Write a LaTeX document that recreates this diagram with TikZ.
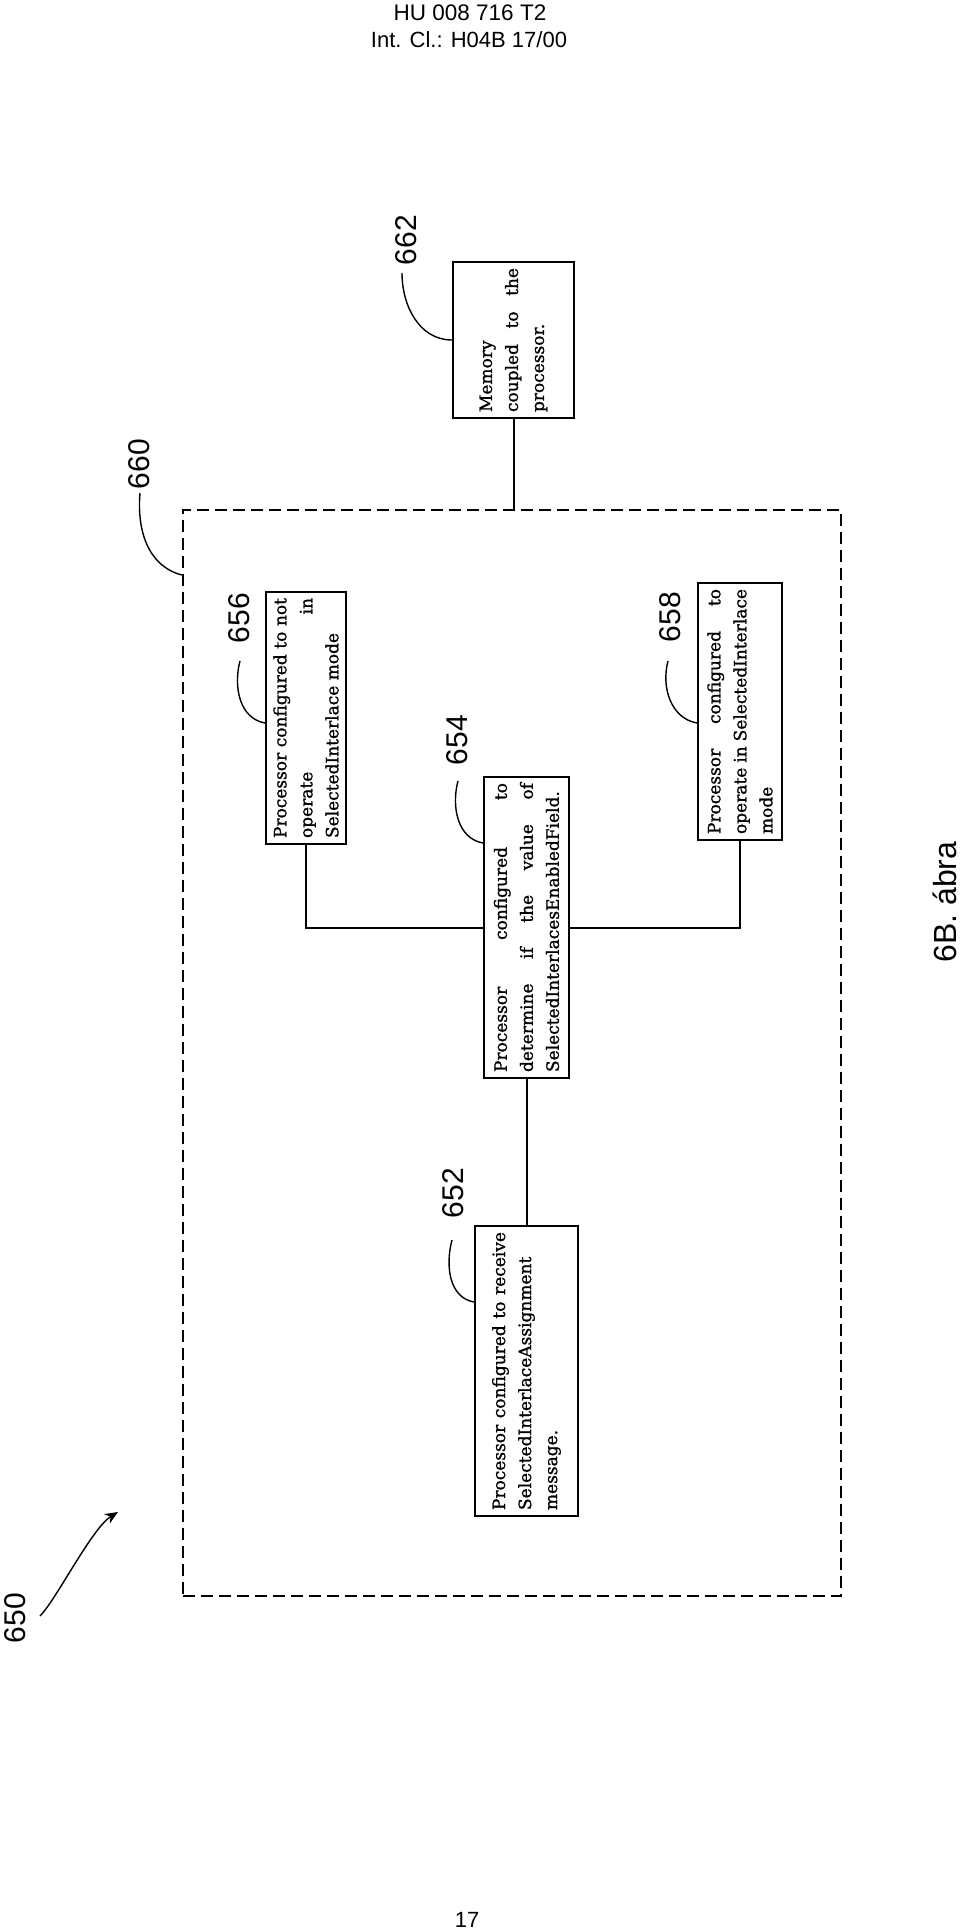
\documentclass[tikz,border=0pt]{standalone}
\usepackage{fontspec}
\setmainfont{Liberation Sans}
\newfontfamily\blockfont[FakeBold=1.2]{DejaVu Serif}
\usetikzlibrary{arrows.meta}
\hyphenpenalty=10000
\exhyphenpenalty=10000
\tikzset{
	procbox/.style={draw, line width=2pt, rotate=90, align=justify, inner xsep=6pt, inner ysep=0pt, font=\blockfont\fontsize{17}{26}\selectfont},
	refnum/.style={rotate=90, inner sep=0pt, font=\fontsize{30}{30}\selectfont},
	leader/.style={line width=1.4pt},
	link/.style={line width=2pt},
	dashframe/.style={draw, line width=2.4pt, dash pattern=on 12pt off 6pt, inner sep=0pt}
}

\begin{document}
\begin{tikzpicture}[x=1pt, y=1pt]
		%%%%% START %%%%%
		
		\useasboundingbox (0, 0) rectangle (960, -1930);
		
		\node[font=\fontsize{22.5}{22.5}\selectfont] (head1) at (470, -13) {HU 008 716 T2};
		\node[font=\fontsize{22}{22}\selectfont] (head2) at (469, -40) {Int. Cl.: H04B 17/00};
		
		\node[dashframe, minimum width=658pt, minimum height=1086pt] (n660) at (512, -1053) {};
		
		\node[procbox, text width=144pt, minimum height=121pt] (n662) at (513.5, -340) {Memory\\ coupled to the\linebreak processor.};
		\node[procbox, text width=240pt, minimum height=80pt] (n656) at (306, -718) {Processor configured to not\linebreak operate in\linebreak SelectedInterlace mode};
		\node[procbox, text width=289pt, minimum height=85pt] (n654) at (526.5, -927.5) {Processor configured to\linebreak determine if the value of\linebreak SelectedInterlacesEnabledField.};
		\node[procbox, text width=245pt, minimum height=84pt] (n658) at (740, -711.5) {Processor configured to\linebreak operate in SelectedInterlace\linebreak mode};
		\node[procbox, text width=278pt, minimum height=103pt] (n652) at (526.5, -1371) {Processor configured to receive\linebreak SelectedInterlaceAssignment\\ message.};
		
		\draw[link] (n662.west) -- (n662.west |- n660.north);
		\draw[link] (n656.west) |- (n654.north);
		\draw[link] (n658.west) |- (n654.south);
		\draw[link] (n654.west) -- (n652.east);
		
		\node[refnum] (l662) at (406, -240) {662};
		\node[refnum] (l660) at (139, -464) {660};
		\node[refnum] (l656) at (239, -618) {656};
		\node[refnum] (l654) at (457, -740) {654};
		\node[refnum] (l658) at (670, -617) {658};
		\node[refnum] (l652) at (453, -1193) {652};
		\node[refnum] (l650) at (15, -1618) {650};
		
		\coordinate (e662) at (402, -273);
		\coordinate (e660) at (140, -493);
		\coordinate (e656) at (240, -661);
		\coordinate (e654) at (458, -781);
		\coordinate (e658) at (668, -661);
		\coordinate (e652) at (452, -1240);
		
		\draw[leader] (n662.north) to[out=180, in=-90] (e662);
		\draw[leader] (n660.west |- 0,-575) to[out=165, in=-95] (e660);
		\draw[leader] (n656.north |- 0,-723) to[out=170, in=-105] (e656);
		\draw[leader] (n654.north |- 0,-843) to[out=170, in=-105] (e654);
		\draw[leader] (n658.north |- 0,-723) to[out=170, in=-105] (e658);
		\draw[leader] (n652.north |- 0,-1302) to[out=170, in=-105] (e652);
		
		\coordinate (a650) at (40, -1616);
		\coordinate (b650) at (118, -1512);
		\draw[leader, -{Stealth[length=13pt, width=11pt]}] (a650) .. controls (56, -1600) and (92, -1528) .. (b650);
		
		\node[refnum, font=\fontsize{32}{32}\selectfont] (fig) at (945, -902) {6B. ábra};
		
		\node[font=\fontsize{22}{22}\selectfont] (page) at (467, -1920) {17};
		
		%%%%% END %%%%%
	\end{tikzpicture}
\end{document}
